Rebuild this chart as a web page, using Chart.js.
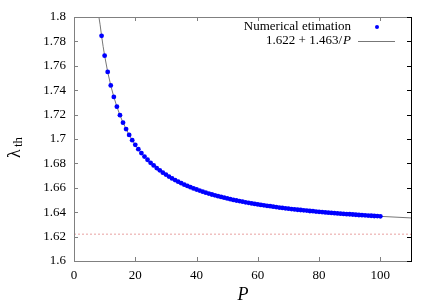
<!DOCTYPE html>
<html><head><meta charset="utf-8">
<script src="https://cdn.jsdelivr.net/npm/chart.js@4/dist/chart.umd.min.js"></script>
<style>html,body{margin:0;padding:0;background:#fff}#wrap{width:436px;height:306px;position:relative}</style>
</head><body><div id="wrap"><canvas id="c" width="436" height="306"></canvas></div>
<script>
const P = [9,10,11,12,13,14,15,16,17,18,19,20,21,22,23,24,25,26,27,28,29,30,31,32,33,34,35,36,37,38,39,40,41,42,43,44,45,46,47,48,49,50,51,52,53,54,55,56,57,58,59,60,61,62,63,64,65,66,67,68,69,70,71,72,73,74,75,76,77,78,79,80,81,82,83,84,85,86,87,88,89,90,91,92,93,94,95,96,97,98,99,100];
const lambdaNum = [1.7846,1.7683,1.7550,1.7439,1.7345,1.7265,1.7195,1.7134,1.7081,1.7033,1.6990,1.6952,1.6917,1.6885,1.6856,1.6830,1.6805,1.6783,1.6762,1.6743,1.6724,1.6708,1.6692,1.6677,1.6663,1.6650,1.6638,1.6626,1.6615,1.6605,1.6595,1.6586,1.6577,1.6568,1.6560,1.6553,1.6545,1.6538,1.6531,1.6525,1.6519,1.6513,1.6507,1.6501,1.6496,1.6491,1.6486,1.6481,1.6477,1.6472,1.6468,1.6464,1.6460,1.6456,1.6452,1.6449,1.6445,1.6442,1.6438,1.6435,1.6432,1.6429,1.6426,1.6423,1.6420,1.6418,1.6415,1.6413,1.6410,1.6408,1.6405,1.6403,1.6401,1.6398,1.6396,1.6394,1.6392,1.6390,1.6388,1.6386,1.6384,1.6383,1.6381,1.6379,1.6377,1.6376,1.6374,1.6372,1.6371,1.6369,1.6368,1.6366];
const fitP = [8.13,8.5,9,9.5,10,11,12,13,14,15,16,18,20,22,25,28,31,35,40,45,50,55,60,70,80,90,100,110];
const fitY = [1.7999,1.7941,1.7846,1.7760,1.7683,1.7550,1.7439,1.7345,1.7265,1.7195,1.7134,1.7033,1.6952,1.6885,1.6805,1.6743,1.6692,1.6638,1.6586,1.6545,1.6513,1.6486,1.6464,1.6429,1.6403,1.6383,1.6366,1.6353];
const asymP = [0,110];
const asymY = [1.622,1.622];
const xTicks = [0,20,40,60,80,100];
const yTicks = [1.6,1.62,1.64,1.66,1.68,1.7,1.72,1.74,1.76,1.78,1.8];
const legendLabels = ["Numerical etimation","1.622 + 1.463/P"];

const FONT = "'Liberation Serif', 'DejaVu Serif', serif";
const toXY = (xs, ys) => xs.map((x,i)=>({x:x,y:ys[i]}));

const framePlugin = {
  id:'frame',
  afterDraw(chart){
    const ctx = chart.ctx, a = chart.chartArea;
    const xs = chart.scales.x, ys = chart.scales.y;
    ctx.save();
    ctx.lineWidth = 1;
    ctx.strokeStyle = '#808080';
    ctx.beginPath();
    ctx.moveTo(a.left+0.5, a.bottom+0.5); ctx.lineTo(a.left+0.5, a.top+0.5); ctx.lineTo(a.right+0.5, a.top+0.5);
    ctx.moveTo(a.left+0.5, a.bottom+0.5); ctx.lineTo(a.right+0.5, a.bottom+0.5);
    ctx.stroke();
    ctx.strokeStyle = '#000';
    ctx.beginPath(); ctx.moveTo(a.right+0.5, a.top); ctx.lineTo(a.right+0.5, a.bottom+1); ctx.stroke();
    ctx.strokeStyle = '#808080';
    ctx.beginPath();
    xTicks.forEach(v=>{ const px=Math.round(xs.getPixelForValue(v))+0.5;
      ctx.moveTo(px,a.bottom); ctx.lineTo(px,a.bottom-4);
      ctx.moveTo(px,a.top); ctx.lineTo(px,a.top+4); });
    yTicks.forEach(v=>{ const py=Math.round(ys.getPixelForValue(v))+0.5;
      ctx.moveTo(a.left,py); ctx.lineTo(a.left+4,py); });
    ctx.stroke();
    ctx.strokeStyle = '#000';
    ctx.beginPath();
    yTicks.forEach(v=>{ const py=Math.round(ys.getPixelForValue(v))+0.5;
      ctx.moveTo(a.right,py); ctx.lineTo(a.right-4,py); });
    ctx.stroke();
    // legend
    ctx.fillStyle = '#000';
    ctx.textAlign = 'right'; ctx.textBaseline = 'middle';
    ctx.font = "13px " + FONT;
    ctx.fillText(legendLabels[0], 351, 27);
    const t1 = "1.622 + 1.463/";
    ctx.font = "italic 13px " + FONT;
    const wP = ctx.measureText("P").width;
    ctx.fillText("P", 351, 41);
    ctx.font = "13px " + FONT;
    ctx.fillText(t1, 351 - wP - 1, 41);
    ctx.fillStyle = '#0000ff';
    ctx.beginPath(); ctx.arc(377, 27, 2, 0, Math.PI*2); ctx.fill();
    ctx.strokeStyle = '#777';
    ctx.beginPath(); ctx.moveTo(358, 41.5); ctx.lineTo(395, 41.5); ctx.stroke();
    // axis titles
    ctx.fillStyle = '#000';
    ctx.textAlign = 'center';
    ctx.font = "italic 18px " + FONT;
    ctx.fillText("P", 243, 295);
    ctx.translate(15, 143);
    ctx.rotate(-Math.PI/2);
    ctx.textAlign = 'left';
    ctx.font = "18px " + FONT;
    ctx.fillText("λ", -15, 0);
    ctx.font = "13px " + FONT;
    ctx.fillText("th", -4, 4);
    ctx.restore();
  }
};

new Chart(document.getElementById('c'), {
  type:'scatter',
  data:{datasets:[
    {label:'asym', data:toXY(asymP, asymY), showLine:true, pointRadius:0, borderColor:'#e8a0a0', borderWidth:1, borderDash:[2,2], order:3},
    {label:'fit', data:toXY(fitP, fitY), showLine:true, pointRadius:0, borderColor:'#777', borderWidth:1, tension:0, order:2},
    {label:'num', data:toXY(P, lambdaNum), showLine:false, pointRadius:2.4, pointBackgroundColor:'#0000ff', pointBorderWidth:0, borderColor:'#0000ff', order:1}
  ]},
  options:{
    responsive:false, animation:false, devicePixelRatio:1,
    layout:{padding:{left:0,right:25,top:17,bottom:0}},
    plugins:{legend:{display:false}, tooltip:{enabled:false}},
    scales:{
      x:{type:'linear', min:0, max:110,
        afterBuildTicks(s){ s.ticks = xTicks.map(v=>({value:v})); },
        afterFit(s){ s.height = 45; },
        grid:{display:false, drawTicks:false}, border:{display:false},
        ticks:{font:{family:FONT,size:13}, color:'#000', padding:7, maxRotation:0}},
      y:{type:'linear', min:1.6, max:1.8,
        afterBuildTicks(s){ s.ticks = yTicks.map(v=>({value:v})); },
        afterFit(s){ s.width = 74; },
        grid:{display:false, drawTicks:false}, border:{display:false},
        ticks:{font:{family:FONT,size:13}, color:'#000', padding:8, callback:v=>String(parseFloat(v.toFixed(2)))}}
    }
  },
  plugins:[framePlugin]
});
</script></body></html>
